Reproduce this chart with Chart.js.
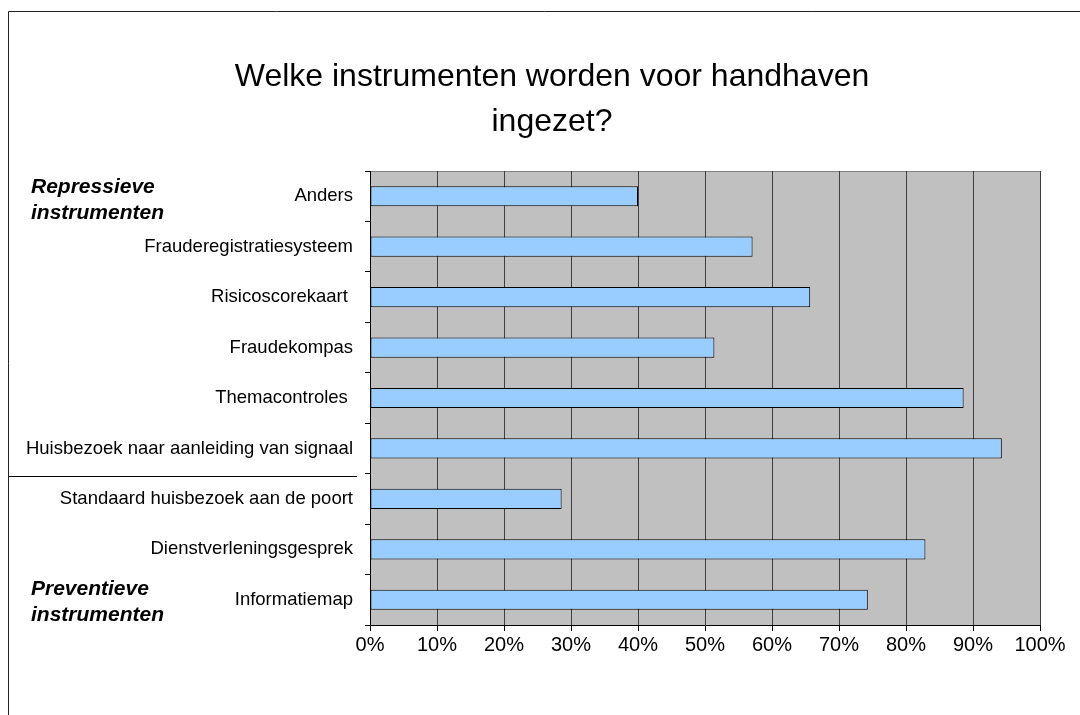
<!DOCTYPE html>
<html>
<head>
<meta charset="utf-8">
<script src="https://cdn.jsdelivr.net/npm/chart.js@4/dist/chart.umd.min.js"></script>
<style>
  body { margin: 0; background: #fff; }
  canvas { display: block; }
</style>
</head>
<body>
<canvas id="instrChart" width="1080" height="715"></canvas>
<script>
// Data
const categories = [
    'Anders',
    'Frauderegistratiesysteem',
    'Risicoscorekaart ',
    'Fraudekompas',
    'Themacontroles ',
    'Huisbezoek naar aanleiding van signaal',
    'Standaard huisbezoek aan de poort',
    'Dienstverleningsgesprek',
    'Informatiemap'
];
const percentages = [40.0, 57.1, 65.7, 51.4, 88.6, 94.3, 28.6, 82.9, 74.3];
const titleLines = ['Welke instrumenten worden voor handhaven', 'ingezet?'];
const groupTop = ['Repressieve', 'instrumenten'];
const groupBottom = ['Preventieve', 'instrumenten'];
const FONT = 'Arial, "Liberation Sans", sans-serif';

// achtergrond + plotvlak
const backgroundPlugin = {
    id: 'background',
    beforeDraw(chart) {
        const { ctx, chartArea: a } = chart;
        ctx.save();
        ctx.fillStyle = '#fff';
        ctx.fillRect(0, 0, chart.width, chart.height);
        ctx.fillStyle = '#C0C0C0';
        ctx.fillRect(a.left, a.top, a.right - a.left, a.bottom - a.top);
        ctx.strokeStyle = '#808080';
        ctx.lineWidth = 1;
        ctx.beginPath();
        ctx.moveTo(a.left, a.top + 0.5);
        ctx.lineTo(a.right, a.top + 0.5);
        ctx.stroke();
        ctx.restore();
    }
};

// titel, groepslabels, scheidingslijn, kader
const decorPlugin = {
    id: 'decor',
    afterDraw(chart) {
        const { ctx } = chart;
        ctx.save();
        ctx.fillStyle = '#000';
        ctx.textAlign = 'center';
        ctx.textBaseline = 'alphabetic';
        ctx.font = '32px ' + FONT;
        ctx.fillText(titleLines[0], 552, 86);
        ctx.fillText(titleLines[1], 552, 131);

        ctx.textAlign = 'left';
        ctx.textBaseline = 'middle';
        ctx.font = 'italic bold 21px ' + FONT;
        ctx.fillText(groupTop[0], 31, 187);
        ctx.fillText(groupTop[1], 31, 213);
        ctx.fillText(groupBottom[0], 31, 589);
        ctx.fillText(groupBottom[1], 31, 615);

        ctx.strokeStyle = '#000';
        ctx.lineWidth = 1;
        ctx.beginPath();
        ctx.moveTo(9, 476.5);
        ctx.lineTo(357, 476.5);
        ctx.stroke();

        ctx.strokeStyle = '#222';
        ctx.beginPath();
        ctx.moveTo(8.5, chart.height);
        ctx.lineTo(8.5, 11.5);
        ctx.lineTo(chart.width, 11.5);
        ctx.stroke();
        ctx.restore();
    }
};

const ctx = document.getElementById('instrChart').getContext('2d');
new Chart(ctx, {
    type: 'bar',
    data: {
        labels: categories,
        datasets: [{
            data: percentages,
            backgroundColor: '#99CCFF',
            borderColor: '#000',
            borderWidth: 1,
            borderSkipped: false,
            barPercentage: 0.4,
            categoryPercentage: 1.0
        }]
    },
    options: {
        indexAxis: 'y',
        responsive: false,
        animation: false,
        layout: { padding: { top: 171, right: 40, bottom: 50, left: 0 } },
        plugins: {
            legend: { display: false },
            title: { display: false },
            tooltip: { enabled: false }
        },
        scales: {
            x: {
                min: 0, max: 100,
                afterFit: (s) => { s.height = 40; },
                ticks: {
                    stepSize: 10,
                    padding: 2,
                    color: '#000',
                    font: { family: FONT, size: 20 },
                    maxRotation: 0,
                    callback: (v) => v + '%'
                },
                grid: { color: '#3f3f3f', lineWidth: 1, tickLength: 6, tickColor: '#000' },
                border: { display: true, color: '#000', width: 1 }
            },
            y: {
                type: 'category',
                afterFit: (s) => { s.width = 370; },
                ticks: {
                    padding: 12,
                    color: '#000',
                    font: { family: FONT, size: 18.5 },
                    autoSkip: false
                },
                grid: { offset: true, drawOnChartArea: false, tickLength: 5, color: '#000' },
                border: { display: true, color: '#000', width: 1 }
            }
        }
    },
    plugins: [backgroundPlugin, decorPlugin]
});
</script>
</body>
</html>
